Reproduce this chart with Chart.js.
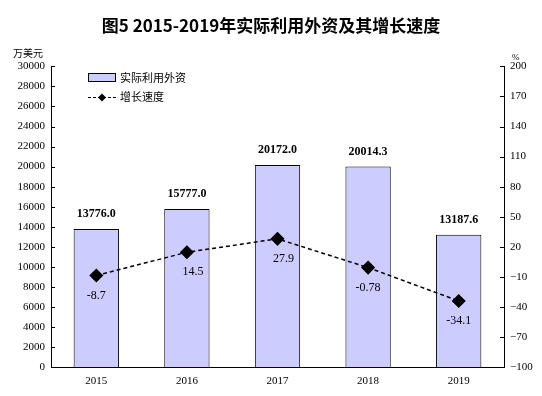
<!DOCTYPE html>
<html>
<head>
<meta charset="utf-8">
<script src="https://cdn.jsdelivr.net/npm/chart.js@4"></script>
<style>
  html, body { margin: 0; padding: 0; background: #fff; }
  #wrap { width: 542px; height: 396px; position: relative; }
</style>
</head>
<body>
<div id="wrap"><canvas id="fdiChart" width="542" height="396"></canvas></div>
<script>
const years = ['2015', '2016', '2017', '2018', '2019'];
const fdiValues = [13776.0, 15777.0, 20172.0, 20014.3, 13187.6];
const fdiLabels = ['13776.0', '15777.0', '20172.0', '20014.3', '13187.6'];
const growthValues = [-8.7, 14.5, 27.9, -0.78, -34.1];
const growthLabels = ['-8.7', '14.5', '27.9', '-0.78', '-34.1'];

const serif = '"Liberation Serif", "DejaVu Serif", serif';
const cjk = '"Noto Sans CJK SC", sans-serif';

// inward tick marks, labels and the legend drawn on top
const decorations = {
    id: 'decorations',
    afterDatasetsDraw(chart) {
        const ctx = chart.ctx;
        const area = chart.chartArea;
        const yL = chart.scales.y;
        const yR = chart.scales.y1;

        ctx.save();
        ctx.strokeStyle = '#000';
        ctx.lineWidth = 1;
        ctx.beginPath();
        yL.ticks.forEach(t => {
            const py = Math.round(yL.getPixelForValue(t.value)) + 0.5;
            ctx.moveTo(area.left, py);
            ctx.lineTo(area.left + 4, py);
        });
        yR.ticks.forEach(t => {
            const py = Math.round(yR.getPixelForValue(t.value)) + 0.5;
            ctx.moveTo(area.right - 4, py);
            ctx.lineTo(area.right, py);
        });
        ctx.stroke();

        // bar value labels
        ctx.fillStyle = '#000';
        ctx.textAlign = 'center';
        ctx.textBaseline = 'bottom';
        ctx.font = 'bold 12px ' + serif;
        chart.getDatasetMeta(1).data.forEach((bar, i) => {
            ctx.fillText(fdiLabels[i], bar.x, bar.y - 9);
        });

        // growth labels below the points
        ctx.font = '12px ' + serif;
        ctx.textBaseline = 'middle';
        chart.getDatasetMeta(0).data.forEach((pt, i) => {
            const dx = growthValues[i] > 0 ? 6 : 0;
            ctx.fillText(growthLabels[i], pt.x + dx, pt.y + 20);
        });

        // legend
        ctx.fillStyle = '#ccccff';
        ctx.fillRect(88.5, 73.5, 27, 8);
        ctx.strokeRect(88.5, 73.5, 27, 8);
        ctx.setLineDash([3, 2]);
        ctx.beginPath();
        ctx.moveTo(88, 97.5);
        ctx.lineTo(116, 97.5);
        ctx.stroke();
        ctx.setLineDash([]);
        ctx.fillStyle = '#000';
        ctx.beginPath();
        ctx.moveTo(102, 93.5);
        ctx.lineTo(106, 97.5);
        ctx.lineTo(102, 101.5);
        ctx.lineTo(98, 97.5);
        ctx.closePath();
        ctx.fill();
        ctx.font = '11px ' + cjk;
        ctx.textAlign = 'left';
        ctx.fillText('实际利用外资', 120, 78);
        ctx.fillText('增长速度', 120, 97);

        // axis units
        ctx.font = '10px ' + cjk;
        ctx.fillText('万美元', 13, 53);
        ctx.font = '9px ' + serif;
        ctx.fillText('%', 512, 58);
        ctx.restore();
    }
};

new Chart(document.getElementById('fdiChart'), {
    data: {
        labels: years,
        datasets: [
            {
                type: 'line',
                data: growthValues,
                yAxisID: 'y1',
                borderColor: '#000',
                borderWidth: 1.5,
                borderDash: [4, 3],
                pointStyle: 'rectRot',
                pointRadius: 6,
                pointBackgroundColor: '#000',
                pointBorderColor: '#000',
                tension: 0,
                order: 0
            },
            {
                type: 'bar',
                data: fdiValues,
                yAxisID: 'y',
                backgroundColor: '#ccccff',
                borderColor: '#000',
                borderWidth: 1,
                categoryPercentage: 1,
                barPercentage: 0.5,
                order: 1
            }
        ]
    },
    options: {
        responsive: false,
        animation: false,
        layout: { padding: 0 },
        plugins: {
            legend: { display: false },
            tooltip: { enabled: false },
            title: {
                display: true,
                text: '图5 2015-2019年实际利用外资及其增长速度',
                color: '#000',
                font: { family: cjk, size: 17, weight: 'bold' },
                padding: { top: 15, bottom: 31 }
            }
        },
        scales: {
            x: {
                grid: { display: false, drawTicks: false },
                border: { color: '#000', width: 1 },
                ticks: { color: '#000', font: { family: serif, size: 11 }, padding: 8 },
                afterFit: s => { s.height = 29; }
            },
            y: {
                position: 'left',
                min: 0,
                max: 30000,
                grid: { display: false, drawTicks: false },
                border: { color: '#000', width: 1 },
                ticks: {
                    stepSize: 2000,
                    color: '#000',
                    padding: 6,
                    font: { family: serif, size: 11 },
                    callback: v => String(v)
                },
                afterFit: s => { s.width = 51; }
            },
            y1: {
                position: 'right',
                min: -100,
                max: 200,
                grid: { display: false, drawTicks: false },
                border: { color: '#000', width: 1 },
                ticks: {
                    stepSize: 30,
                    color: '#000',
                    padding: 6,
                    font: { family: serif, size: 11 },
                    callback: v => String(v).replace('-', '−')
                },
                afterFit: s => { s.width = 38; }
            }
        }
    },
    plugins: [decorations]
});
</script>
</body>
</html>
